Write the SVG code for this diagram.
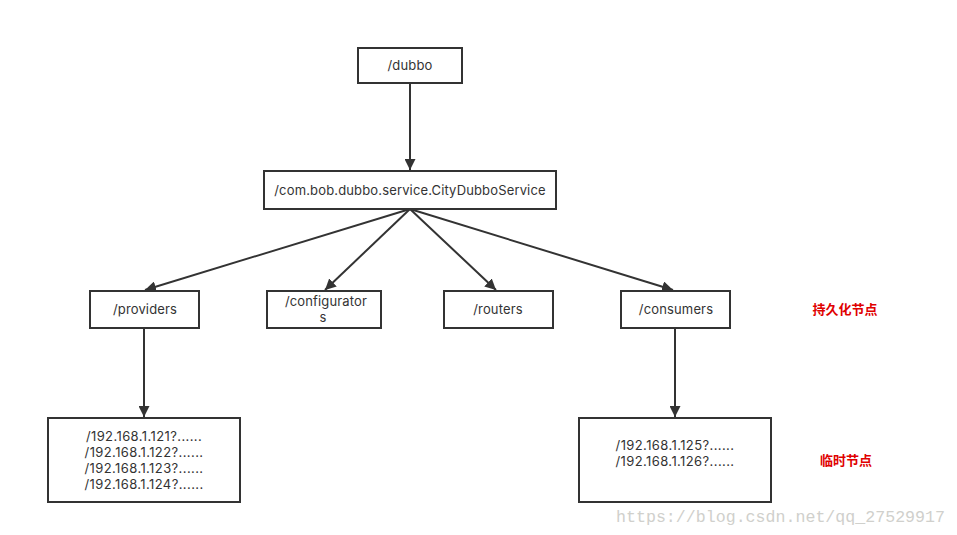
<svg xmlns="http://www.w3.org/2000/svg" width="957" height="535" viewBox="0 0 957 535">
<style>
.box{fill:#fff;stroke:#333;stroke-width:2}
.t{font-family:Inter,"Noto Sans",sans-serif;font-size:13px;fill:#333;text-anchor:middle;letter-spacing:0.15px}
.ip{letter-spacing:0.4px}
.c{stroke:#333;stroke-width:2;fill:none;marker-end:url(#ah)}
.lbl{font-family:"Noto Sans CJK SC",sans-serif;font-size:13px;font-weight:bold;fill:#e00000;text-anchor:middle}
.wm{font-family:"Liberation Mono","DejaVu Sans Mono",monospace;font-size:17px;fill:#d0d0cc}
</style>
<defs>
<marker id="ah" viewBox="0 0 10 10" refX="10" refY="5" markerWidth="5.5" markerHeight="5.5" orient="auto" markerUnits="strokeWidth">
<path d="M0,0 L10,5 L0,10 z" fill="#333"/>
</marker>
</defs>
<rect width="957" height="535" fill="#fff"/>
<g id="connectors">
<line class="c" x1="410" y1="83" x2="410" y2="170"/>
<line class="c" x1="410" y1="209" x2="145" y2="290"/>
<line class="c" x1="410" y1="209" x2="325" y2="290"/>
<line class="c" x1="410" y1="209" x2="496" y2="290"/>
<line class="c" x1="410" y1="209" x2="673" y2="290"/>
<line class="c" x1="144" y1="328" x2="144" y2="417"/>
<line class="c" x1="675" y1="328" x2="675" y2="417"/>
</g>
<g id="dubbo"><rect class="box" x="358" y="48" width="104" height="35"/><text class="t" x="410" y="70">/dubbo</text></g>
<g id="service"><rect class="box" x="264" y="171" width="292" height="38"/><text class="t" x="410" y="195">/com.bob.dubbo.service.CityDubboService</text></g>
<g id="providers"><rect class="box" x="90" y="291" width="109" height="37"/><text class="t" x="145" y="314">/providers</text></g>
<g id="configurators"><rect class="box" x="267" y="291" width="114" height="37"/><text class="t" x="326" y="306">/configurator</text><text class="t" x="323" y="322">s</text></g>
<g id="routers"><rect class="box" x="444" y="291" width="109" height="37"/><text class="t" x="498" y="314">/routers</text></g>
<g id="consumers"><rect class="box" x="621" y="291" width="109" height="37"/><text class="t" x="676" y="314">/consumers</text></g>
<g id="provider-ips"><rect class="box" x="48" y="418" width="192" height="84"/>
<text class="t ip" x="144" y="441">/192.168.1.121?......</text>
<text class="t ip" x="144" y="457">/192.168.1.122?......</text>
<text class="t ip" x="144" y="473">/192.168.1.123?......</text>
<text class="t ip" x="144" y="489">/192.168.1.124?......</text>
</g>
<g id="consumer-ips"><rect class="box" x="579" y="418" width="192" height="84"/>
<text class="t ip" x="675" y="450">/192.168.1.125?......</text>
<text class="t ip" x="675" y="466">/192.168.1.126?......</text>
</g>
<g id="persistent-label"><text class="lbl" x="845" y="314">持久化节点</text></g>
<g id="ephemeral-label"><text class="lbl" x="846" y="465">临时节点</text></g>
<text class="wm" x="616" y="522" textLength="329" lengthAdjust="spacingAndGlyphs">https://blog.csdn.net/qq_27529917</text>
</svg>
